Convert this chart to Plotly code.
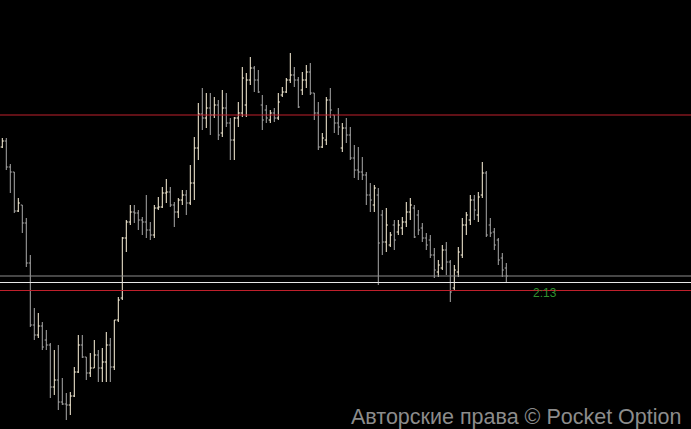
import plotly.graph_objects as go

# OHLC values (price points above an arbitrary base), one entry per bar
opens = [282, 288, 262, 257, 218, 224, 206, 166, 104, 94, 103, 89, 84, 42, 49, 27, 25, 24, 33, 57,
         84, 72, 56, 61, 74, 61, 67, 84, 62, 109, 131, 191, 207, 217, 216, 209, 207, 199, 194, 221,
         222, 236, 237, 224, 217, 229, 234, 226, 246, 281, 315, 311, 321, 314, 324, 296, 321, 306, 289, 311,
         316, 324, 349, 361, 349, 324, 319, 309, 316, 311, 334, 337, 349, 354, 349, 339, 349, 357, 336, 316,
         282, 289, 329, 314, 306, 281, 301, 294, 271, 259, 257, 254, 234, 224, 234, 214, 187, 184, 204, 197,
         201, 207, 217, 221, 214, 201, 191, 189, 174, 157, 161, 179, 167, 141, 157, 174, 204, 209, 229, 214,
         234, 256, 204, 197, 189, 171, 161]
highs = [291, 291, 265, 257, 231, 224, 211, 174, 121, 116, 107, 99, 86, 79, 84, 51, 36, 37, 62, 94,
         94, 72, 76, 89, 79, 81, 97, 91, 109, 132, 192, 209, 224, 224, 219, 212, 234, 207, 224, 232,
         242, 250, 242, 227, 231, 239, 239, 264, 292, 326, 341, 336, 336, 332, 329, 339, 336, 311, 312, 327,
         362, 356, 372, 363, 359, 334, 324, 319, 321, 336, 342, 351, 376, 362, 352, 357, 364, 366, 336, 327,
         296, 332, 341, 314, 321, 306, 311, 302, 284, 282, 272, 257, 246, 244, 241, 219, 221, 197, 209, 209,
         212, 227, 231, 224, 219, 206, 196, 194, 181, 169, 184, 187, 169, 164, 182, 211, 217, 234, 234, 237,
         267, 258, 211, 201, 191, 176, 166]
lows = [281, 259, 236, 216, 217, 196, 162, 102, 89, 91, 79, 79, 31, 34, 19, 24, 9, 14, 32, 56,
        71, 49, 52, 61, 47, 47, 47, 47, 59, 107, 129, 177, 204, 206, 199, 194, 191, 189, 191, 219,
        221, 226, 222, 202, 211, 224, 214, 224, 229, 269, 299, 301, 294, 311, 289, 292, 302, 269, 269, 302,
        312, 312, 344, 337, 336, 299, 306, 306, 307, 309, 332, 336, 346, 342, 321, 334, 341, 334, 309, 279,
        281, 284, 311, 296, 294, 277, 286, 269, 251, 249, 249, 224, 217, 217, 144, 174, 177, 182, 179, 194,
        194, 202, 209, 191, 194, 187, 179, 171, 151, 152, 159, 154, 127, 139, 152, 171, 194, 204, 209, 207,
        231, 192, 192, 179, 164, 152, 146]
closes = [288, 262, 257, 218, 226, 206, 166, 104, 94, 103, 82, 84, 42, 49, 27, 25, 24, 33, 57, 84,
          72, 56, 61, 74, 61, 67, 84, 62, 109, 129, 191, 207, 217, 216, 209, 207, 199, 194, 221, 222,
          236, 237, 224, 217, 229, 234, 226, 246, 281, 315, 311, 321, 314, 324, 294, 321, 306, 289, 311, 316,
          351, 349, 361, 349, 337, 309, 311, 316, 311, 327, 337, 349, 354, 349, 322, 349, 357, 336, 316, 282,
          291, 329, 319, 306, 302, 301, 294, 271, 259, 257, 254, 234, 229, 241, 186, 187, 204, 194, 189, 204,
          207, 217, 224, 192, 199, 191, 184, 174, 159, 164, 179, 167, 137, 159, 177, 204, 214, 229, 219, 232,
          256, 194, 196, 184, 169, 159, 153]
bar_index = list(range(len(opens)))

# horizontal levels (same price units)
red_levels = [314, 138.5]
grey_level = 153
white_level = 146.5
timer_text = "2:13"
timer_pos = (135.6, 136)
watermark = "Авторские права © Pocket Option"

fig = go.Figure()
fig.add_trace(go.Ohlc(
    x=bar_index, open=opens, high=highs, low=lows, close=closes,
    increasing=dict(line=dict(color="#fff6dc", width=1)),
    decreasing=dict(line=dict(color="#a9a9a9", width=1)),
    tickwidth=0.4, hoverinfo="skip", showlegend=False,
))

shapes = []
for lv in red_levels:
    shapes.append(dict(type="line", xref="paper", x0=0, x1=1, yref="y", y0=lv, y1=lv,
                       line=dict(color="#c0202c", width=1), layer="above"))
shapes.append(dict(type="line", xref="paper", x0=0, x1=1, yref="y", y0=grey_level, y1=grey_level,
                   line=dict(color="#8c8c8c", width=1), layer="above"))
shapes.append(dict(type="line", xref="paper", x0=0, x1=1, yref="y", y0=white_level, y1=white_level,
                   line=dict(color="#e8e8e8", width=1), layer="above"))

fig.update_layout(
    width=691, height=429,
    margin=dict(l=0, r=0, t=0, b=0),
    paper_bgcolor="#000000", plot_bgcolor="#000000",
    shapes=shapes,
    xaxis=dict(range=[-0.575, 172.175], visible=False, showgrid=False, zeroline=False,
               rangeslider=dict(visible=False)),
    yaxis=dict(range=[0, 429], visible=False, showgrid=False, zeroline=False),
    annotations=[
        dict(x=timer_pos[0], y=timer_pos[1], xref="x", yref="y", text=timer_text,
             showarrow=False, xanchor="center", yanchor="middle",
             font=dict(family="Liberation Sans, Arial, sans-serif", size=12, color="#2f902f")),
        dict(x=0.989, y=-0.004, xref="paper", yref="paper", text=watermark,
             showarrow=False, xanchor="right", yanchor="bottom",
             font=dict(family="Liberation Sans, Arial, sans-serif", size=21.5, color="#8c8c8c")),
    ],
)

fig.write_html(
    "out.html",
    config={"displayModeBar": False},
    post_script="document.body.style.margin='0';document.body.style.background='#000';",
)
